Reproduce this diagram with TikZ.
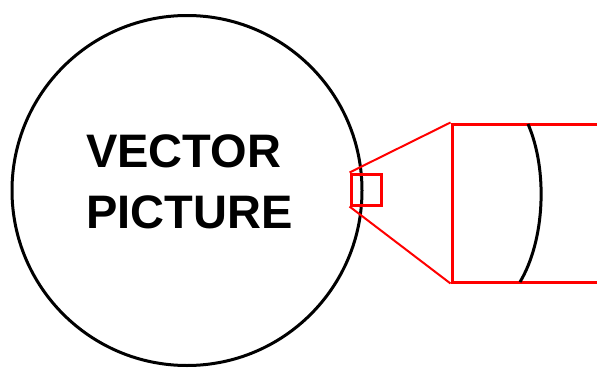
\documentclass[tikz,border=0pt]{standalone}
\usepackage{fontspec}
\setmainfont{Liberation Sans}
\usepackage{tikz}
\usetikzlibrary{positioning}
\tikzset{
  vecline/.style={draw=black, line width=3pt},
  zoomline/.style={draw=red, line width=3pt},
  zoomray/.style={draw=red, line width=2pt},
  bigword/.style={font=\fontsize{47}{61}\selectfont\bfseries, inner sep=0pt,
    anchor=base}
}
\begin{document}
\begin{tikzpicture}[x=1pt, y=-1pt]
  \useasboundingbox (0,0) rectangle (597,367);
  \clip (0,0) rectangle (597,367);

  % the picture and its name
  \node[vecline, circle, minimum size=350pt, inner sep=0pt] (picture)
    at (187,190.5) {};
  \node[bigword] (vectortext) at (183.5,167) {VECTOR};
  \node[bigword] (picturetext) at (189.5,228) {PICTURE};

  % magnified part of the outline
  \node[zoomline, rectangle, minimum width=30pt, minimum height=31pt,
    inner sep=0pt] (zoombox) at (366,189.5) {};
  \node[zoomline, rectangle, minimum width=200pt, minimum height=158pt,
    inner sep=0pt] (bigbox) at (552,203) {};
  \draw[zoomray] (zoombox.north west) -- (bigbox.north west);
  \draw[zoomray] (zoombox.south west) -- (bigbox.south west);

  \draw[vecline] (528,124) .. controls (548,170) and (545,240) .. (520,282);
\end{tikzpicture}
\end{document}
